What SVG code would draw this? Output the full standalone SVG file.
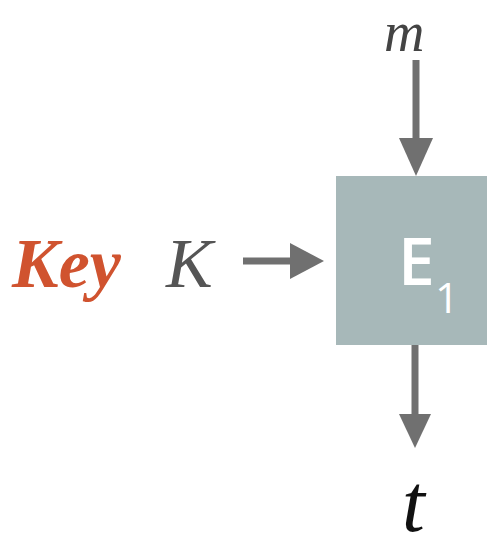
<svg xmlns="http://www.w3.org/2000/svg" width="487" height="550" viewBox="0 0 487 550">
<style>
.ln{stroke:#707070;stroke-width:7;fill:none}
.hd{fill:#707070}
.it{font-family:"Liberation Serif",serif;font-style:italic}
</style>
<rect width="487" height="550" fill="#ffffff"/>
<g id="key-label">
<text x="12" y="287" class="it" font-weight="bold" font-size="70" fill="#d0532f">Key</text>
</g>
<g id="k-label">
<text x="166" y="287" class="it" font-size="70" fill="#555555">K</text>
</g>
<g id="m-label">
<text x="384" y="51" class="it" font-size="56" fill="#444444">m</text>
</g>
<g id="t-label">
<text x="402" y="531" class="it" font-size="82" fill="#111111">t</text>
</g>
<g id="e1">
<rect x="336" y="176" width="151" height="169" fill="#a7b8b9"/>
<text x="398" y="285" font-family="Open Sans,sans-serif" font-weight="600" font-size="66" fill="#ffffff">E</text>
<text x="435" y="313" font-family="Open Sans,sans-serif" font-size="42" fill="#ffffff">1</text>
</g>
<g id="connectors">
<line class="ln" x1="416" y1="60" x2="416" y2="140"/>
<polygon class="hd" points="399,138 433,138 416,176"/>
<line class="ln" x1="243" y1="261" x2="292" y2="261"/>
<polygon class="hd" points="290,243 290,279 324,261"/>
<line class="ln" x1="415" y1="345" x2="415" y2="417"/>
<polygon class="hd" points="399,414 431,414 415,448"/>
</g>
</svg>
